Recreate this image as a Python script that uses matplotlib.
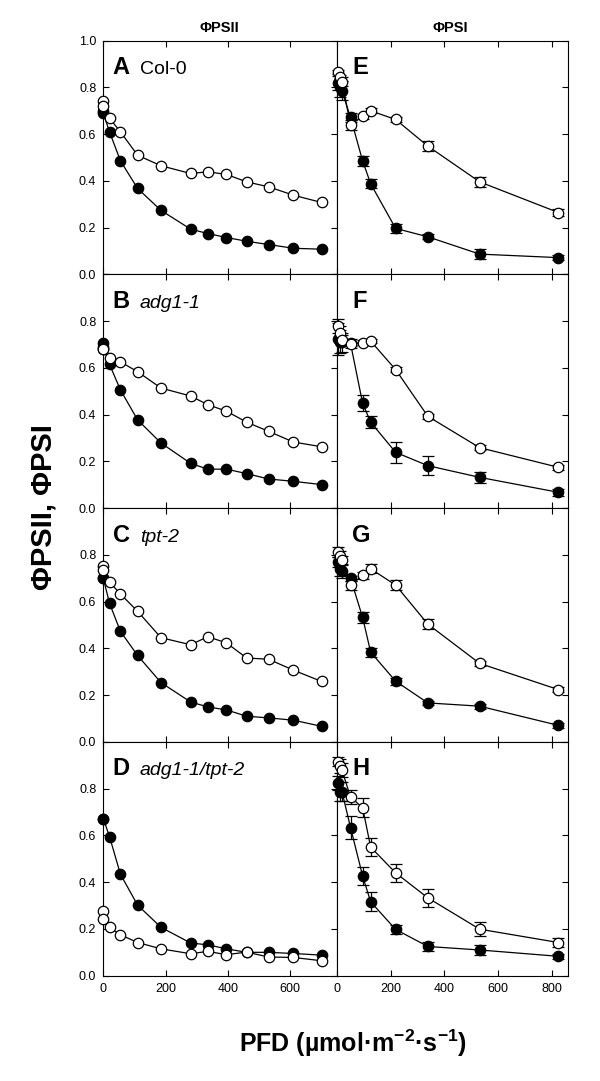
import matplotlib.pyplot as plt
import numpy as np

plt.rcParams['font.family'] = ['Liberation Sans', 'DejaVu Sans']
plt.rcParams['mathtext.fontset'] = 'custom'
plt.rcParams['mathtext.rm'] = 'Liberation Sans'
plt.rcParams['mathtext.bf'] = 'Liberation Sans:bold'

# light intensities (PFD) of the PSII (left) and PSI (right) curves
pfd_psii = [0, 0, 20, 55, 110, 185, 280, 335, 395, 460, 530, 610, 700]
pfd_psi = [3, 10, 18, 50, 95, 125, 218, 338, 531, 824]

letters_psii = ['A', 'B', 'C', 'D']
letters_psi = ['E', 'F', 'G', 'H']
genotypes = ['Col-0', 'adg1-1', 'tpt-2', 'adg1-1/tpt-2']
genotype_italic = [False, True, True, True]

# PhiPSII, closed and open symbols
psii_closed = [
    [0.70, 0.69, 0.61, 0.486, 0.368, 0.274, 0.194, 0.175, 0.158, 0.142, 0.128, 0.112, 0.108],
    [0.705, 0.688, 0.615, 0.506, 0.378, 0.279, 0.192, 0.167, 0.167, 0.148, 0.125, 0.115, 0.101],
    [0.70, 0.70, 0.593, 0.473, 0.37, 0.254, 0.171, 0.15, 0.137, 0.11, 0.103, 0.093, 0.067],
    [0.672, 0.672, 0.595, 0.434, 0.302, 0.207, 0.14, 0.132, 0.115, 0.10, 0.10, 0.095, 0.088],
]
psii_open = [
    [0.742, 0.72, 0.668, 0.61, 0.51, 0.465, 0.432, 0.439, 0.428, 0.396, 0.375, 0.339, 0.308],
    [0.679, 0.679, 0.644, 0.626, 0.584, 0.514, 0.48, 0.443, 0.415, 0.368, 0.329, 0.283, 0.263],
    [0.753, 0.734, 0.684, 0.633, 0.559, 0.446, 0.416, 0.45, 0.424, 0.359, 0.354, 0.307, 0.259],
    [0.275, 0.244, 0.207, 0.175, 0.142, 0.115, 0.094, 0.104, 0.09, 0.101, 0.08, 0.078, 0.064],
]

# PhiPSI with error bars
psi_closed = [
    [0.817, 0.80, 0.786, 0.672, 0.486, 0.388, 0.197, 0.161, 0.087, 0.072],
    [0.724, 0.712, 0.71, 0.705, 0.449, 0.368, 0.239, 0.182, 0.132, 0.068],
    [0.77, 0.739, 0.731, 0.70, 0.533, 0.384, 0.26, 0.167, 0.153, 0.071],
    [0.823, 0.788, 0.788, 0.634, 0.427, 0.316, 0.198, 0.125, 0.11, 0.083],
]
psi_closed_err = [
    [0.03, 0.04, 0.04, 0.02, 0.02, 0.02, 0.02, 0.01, 0.02, 0.01],
    [0.07, 0.05, 0.04, 0.02, 0.035, 0.025, 0.045, 0.04, 0.025, 0.015],
    [0.02, 0.03, 0.03, 0.01, 0.025, 0.02, 0.015, 0.01, 0.01, 0.01],
    [0.03, 0.04, 0.04, 0.05, 0.04, 0.04, 0.02, 0.02, 0.02, 0.01],
]
psi_open = [
    [0.866, 0.845, 0.825, 0.639, 0.677, 0.70, 0.663, 0.549, 0.396, 0.265],
    [0.779, 0.748, 0.72, 0.702, 0.708, 0.715, 0.593, 0.393, 0.259, 0.175],
    [0.813, 0.796, 0.777, 0.67, 0.713, 0.741, 0.671, 0.504, 0.336, 0.224],
    [0.915, 0.897, 0.88, 0.764, 0.719, 0.55, 0.44, 0.333, 0.199, 0.142],
]
psi_open_err = [
    [0.01, 0.01, 0.02, 0.02, 0.01, 0.01, 0.01, 0.02, 0.02, 0.015],
    [0.03, 0.03, 0.02, 0.01, 0.01, 0.01, 0.01, 0.01, 0.01, 0.01],
    [0.02, 0.02, 0.02, 0.02, 0.015, 0.02, 0.02, 0.02, 0.01, 0.01],
    [0.02, 0.03, 0.03, 0.03, 0.04, 0.04, 0.04, 0.04, 0.03, 0.02],
]

W, H = 600, 1081
fig, axes = plt.subplots(4, 2, figsize=(W / 100, H / 100), dpi=100,
                         gridspec_kw=dict(left=103.3 / W, right=568 / W,
                                          top=1 - 40.7 / H, bottom=1 - 975.7 / H,
                                          hspace=0, wspace=0,
                                          width_ratios=[233.6, 230.7]))

mk = dict(marker='o', ms=7.5, mec='black', mew=0.9, color='black', lw=0.9,
          clip_on=False)

for i in range(4):
    ax = axes[i, 0]
    ax.plot(pfd_psii, psii_closed[i], mfc='black', zorder=3, **mk)
    ax.plot(pfd_psii, psii_open[i], mfc='white', zorder=4, **mk)
    ax.set_xlim(0, 750)
    ax.set_ylim(0, 1.0)
    ax.set_xticks([0, 200, 400, 600])
    ax.set_yticks([0, 0.2, 0.4, 0.6, 0.8, 1.0])
    if i == 0:
        ax.set_yticklabels(['0.0', '0.2', '0.4', '0.6', '0.8', '1.0'])
    else:
        ax.set_yticklabels(['0.0', '0.2', '0.4', '0.6', '0.8', ''])
    ax.tick_params(direction='in', length=4, width=0.8, top=True, right=True,
                   labelsize=9, pad=5)
    if i < 3:
        ax.tick_params(labelbottom=False)
    ax.text(0.04, 0.857, letters_psii[i], transform=ax.transAxes,
            fontsize=17, fontweight='bold')
    ax.text(0.157, 0.857, genotypes[i], transform=ax.transAxes, fontsize=14,
            fontstyle='italic' if genotype_italic[i] else 'normal')

    ax = axes[i, 1]
    ax.errorbar(pfd_psi, psi_closed[i], yerr=psi_closed_err[i], mfc='black',
                capsize=4, elinewidth=0.9, capthick=0.9, zorder=3, **mk)
    ax.errorbar(pfd_psi, psi_open[i], yerr=psi_open_err[i], mfc='white',
                capsize=4, elinewidth=0.9, capthick=0.9, zorder=4, **mk)
    ax.set_xlim(0, 860)
    ax.set_ylim(0, 1.0)
    ax.set_xticks([0, 200, 400, 600, 800])
    ax.set_yticks([0, 0.2, 0.4, 0.6, 0.8, 1.0])
    ax.tick_params(direction='in', length=4, width=0.8, top=True, left=False,
                   right=True, labelleft=False, labelsize=9, pad=5)
    if i < 3:
        ax.tick_params(labelbottom=False)
    ax.text(0.065, 0.857, letters_psi[i], transform=ax.transAxes,
            fontsize=17, fontweight='bold')

    for a in axes[i]:
        for s in a.spines.values():
            s.set_linewidth(0.8)

fig.text(219 / W, 1 - 28 / H, 'ΦPSII', ha='center', va='center',
         fontsize=10.5, fontweight='bold')
fig.text(450 / W, 1 - 28 / H, 'ΦPSI', ha='center', va='center',
         fontsize=10.5, fontweight='bold')
fig.text(44 / W, 1 - 507 / H, 'ΦPSII, ΦPSI', rotation=90, ha='center',
         va='center', fontsize=21, fontweight='bold')
fig.text(353 / W, 1 - 1043 / H,
         r'PFD (µmol·m$^{\mathbf{-2}}$·s$^{\mathbf{-1}}$)', ha='center',
         va='center', fontsize=18, fontweight='bold')

fig.savefig('out.png', dpi=100)
